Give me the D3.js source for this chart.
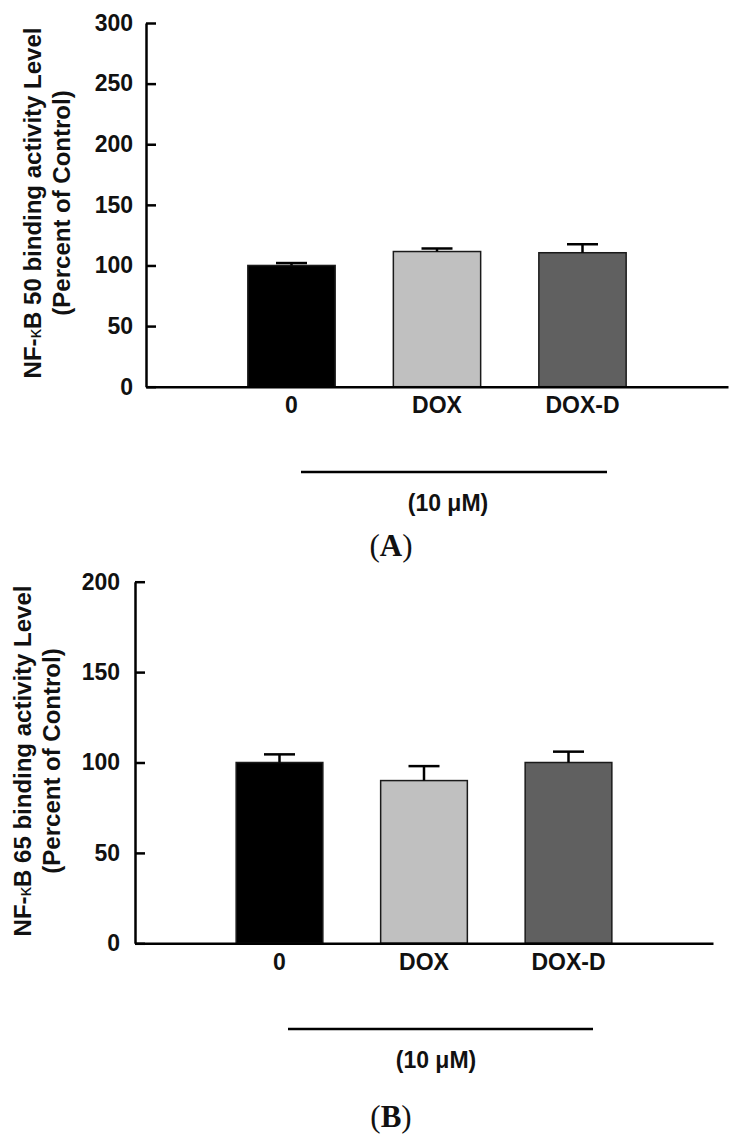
<!DOCTYPE html>
<html>
<head>
<meta charset="utf-8">
<script src="https://cdn.jsdelivr.net/npm/d3@7"></script>
<style>
  html, body { margin: 0; padding: 0; background: #fff; }
  svg { display: block; }
</style>
</head>
<body>
<svg id="chart" width="737" height="1134"></svg>
<script>
// ---- data ----
const categories = ["0", "DOX", "DOX-D"];
const colors = ["#000000", "#c0c0c0", "#606060"];

const valuesA = [100, 111.5, 110.5];
const errorsA = [2, 2.5, 7];
const ticksA = [0, 50, 100, 150, 200, 250, 300];

const valuesB = [100, 90, 100];
const errorsB = [4.5, 8, 6];
const ticksB = [0, 50, 100, 150, 200];

const yLabelA = ["NF-", "κ", "B 50 binding activity Level"];
const yLabelB = ["NF-", "κ", "B 65 binding activity Level"];
const yLabel2 = "(Percent of Control)";
const concLabel = "(10 \u03BCM)";

// ---- layout ----
const SANS = "Arial, 'Liberation Sans', sans-serif";
const SERIF = "'Liberation Serif', 'Times New Roman', serif";
const INK = "#111";
const svg = d3.select("#chart");
svg.append("rect").attr("width", 737).attr("height", 1134).attr("fill", "#fff");

function sansText(sel, size) {
  return sel.attr("font-family", SANS).attr("font-weight", "bold")
    .attr("font-size", size).attr("fill", INK);
}

function panel(cfg) {
  const g = svg.append("g");
  const x = d3.scaleBand().domain(categories)
    .range([cfg.x0, cfg.x1]).paddingInner(0.4).paddingOuter(0.7);
  const y = d3.scaleLinear().domain([0, cfg.max]).range([cfg.yBottom, cfg.yTop]);

  // bars
  g.selectAll("rect.bar").data(cfg.values).join("rect")
    .attr("class", "bar")
    .attr("x", (d, i) => x(categories[i]))
    .attr("width", x.bandwidth())
    .attr("y", d => y(d))
    .attr("height", d => y(0) - y(d))
    .attr("fill", (d, i) => colors[i])
    .attr("stroke", "#1a1a1a")
    .attr("stroke-width", 1.5);

  // error bars (upper)
  const capW = 31;
  cfg.values.forEach((v, i) => {
    const cx = x(categories[i]) + x.bandwidth() / 2;
    const e = cfg.errors[i];
    g.append("line").attr("x1", cx).attr("x2", cx)
      .attr("y1", y(v)).attr("y2", y(v + e))
      .attr("stroke", "#000").attr("stroke-width", 2.5);
    g.append("line").attr("x1", cx - capW / 2).attr("x2", cx + capW / 2)
      .attr("y1", y(v + e)).attr("y2", y(v + e))
      .attr("stroke", "#000").attr("stroke-width", 2.5);
  });

  // y axis
  const yAxis = d3.axisLeft(y).tickValues(cfg.ticks).tickFormat(d3.format("d"))
    .tickSizeInner(-10).tickSizeOuter(0).tickPadding(cfg.tickPad);
  const ya = g.append("g").attr("transform", `translate(${cfg.x0},0)`).call(yAxis);
  ya.attr("font-family", null).attr("font-size", null);
  ya.select(".domain").attr("stroke", "#000").attr("stroke-width", 2.5);
  ya.selectAll(".tick line").attr("stroke", "#000").attr("stroke-width", 2.5);
  sansText(ya.selectAll(".tick text"), 23);

  // x axis
  const xAxis = d3.axisBottom(x).tickSize(0).tickPadding(10);
  const xa = g.append("g").attr("transform", `translate(0,${y(0)})`).call(xAxis);
  xa.attr("font-family", null).attr("font-size", null);
  xa.select(".domain").attr("stroke", "#000").attr("stroke-width", 2.5);
  sansText(xa.selectAll(".tick text"), 23);

  // y labels
  const cy = cfg.labelCy;
  const t1 = sansText(g.append("text"), 24)
    .attr("transform", `translate(${cfg.label1x},${cy}) rotate(-90)`)
    .attr("text-anchor", "middle");
  t1.append("tspan").text(cfg.yLabel[0]);
  t1.append("tspan").attr("font-size", 19).attr("font-weight", "normal").text(cfg.yLabel[1]);
  t1.append("tspan").text(cfg.yLabel[2]);
  sansText(g.append("text"), 24)
    .attr("transform", `translate(${cfg.label2x},${cy}) rotate(-90)`)
    .attr("text-anchor", "middle").text(yLabel2);

  // bracket + concentration
  g.append("line").attr("x1", cfg.brX0).attr("x2", cfg.brX1)
    .attr("y1", cfg.brY).attr("y2", cfg.brY)
    .attr("stroke", "#000").attr("stroke-width", 2.5);
  sansText(g.append("text"), 23).attr("x", cfg.concX).attr("y", cfg.concY)
    .attr("text-anchor", "middle").text(concLabel);

  // panel letter
  const pl = g.append("text").attr("x", cfg.letterX).attr("y", cfg.letterY)
    .attr("text-anchor", "middle")
    .attr("font-family", SERIF)
    .attr("font-size", 31).attr("font-weight", "normal").attr("fill", INK);
  pl.append("tspan").text("(");
  pl.append("tspan").attr("font-weight", "bold").text(cfg.letter);
  pl.append("tspan").text(")");
}

panel({
  values: valuesA, errors: errorsA, ticks: ticksA, max: 300,
  x0: 146, x1: 728, yTop: 23, yBottom: 386.7, tickPad: 13,
  yLabel: yLabelA, label1x: 41, label2x: 70, labelCy: 203,
  brX0: 301, brX1: 607, brY: 472, concX: 448, concY: 511,
  letter: "A", letterX: 391, letterY: 556
});

panel({
  values: valuesB, errors: errorsB, ticks: ticksB, max: 200,
  x0: 135, x1: 713, yTop: 581.7, yBottom: 943.3, tickPad: 15,
  yLabel: yLabelB, label1x: 31, label2x: 60, labelCy: 761,
  brX0: 288, brX1: 593, brY: 1029, concX: 436, concY: 1068,
  letter: "B", letterX: 391, letterY: 1127
});
</script>
</body>
</html>
